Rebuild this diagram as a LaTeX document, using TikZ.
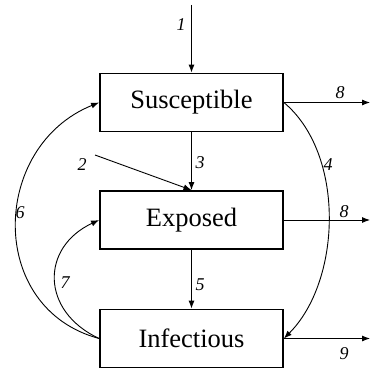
\documentclass[tikz,border=0pt]{standalone}
\usepackage{fontspec}
\setmainfont{Liberation Serif}
\usetikzlibrary{arrows.meta,positioning}

\begin{document}
\begin{tikzpicture}[x=1pt,y=1pt,
  box/.style={draw,line width=1.8pt,minimum width=183pt,minimum height=58pt,inner sep=0pt,font=\fontsize{26.5}{28}\selectfont},
  flow/.style={-{Latex[length=8pt,width=6pt]},line width=0.9pt},
  num/.style={font=\fontsize{18}{20}\selectfont\itshape,inner sep=0pt}]
\useasboundingbox (0,0) rectangle (371,370);

% Boxes
\node[box] (sus) at (191.5,267.5) {Susceptible};
\node[box] (exp) at (191.5,150) {Exposed};
\node[box] (inf) at (191.5,31.5) {Infectious};

% Free ends
\coordinate (in1) at (191.5,365);
\coordinate (in2) at (95,215);
\coordinate (outS) at (370,267.5);
\coordinate (outE) at (370,150);
\coordinate (outI) at (370,31.5);

% Flows
\draw[flow] (in1) -- (sus);
\draw[flow] (sus) -- (exp);
\draw[flow] (in2) -- (exp.north);
\draw[flow] (exp) -- (inf);
\draw[flow] (sus.east) -- (outS);
\draw[flow] (exp.east) -- (outE);
\draw[flow] (inf.east) -- (outI);
\draw[flow] (sus.east) to[out=-40,in=45,looseness=0.88] (inf.east);
\draw[flow] (inf.west) to[out=165,in=-158,looseness=1.27] (sus.west);
\draw[flow] (inf.west) to[out=155,in=-155,looseness=1.4] (exp.west);

% Labels
\node[num] (l1) at (181,345) {1};
\node[num] (l2) at (82,205) {2};
\node[num] (l3) at (200,207) {3};
\node[num] (l4) at (328,205) {4};
\node[num] (l5) at (200,85) {5};
\node[num] (l6) at (20,157) {6};
\node[num] (l7) at (65,87) {7};
\node[num] (l8s) at (340,277) {8};
\node[num] (l8e) at (344,158) {8};
\node[num] (l9) at (344,16) {9};
\end{tikzpicture}
\end{document}
